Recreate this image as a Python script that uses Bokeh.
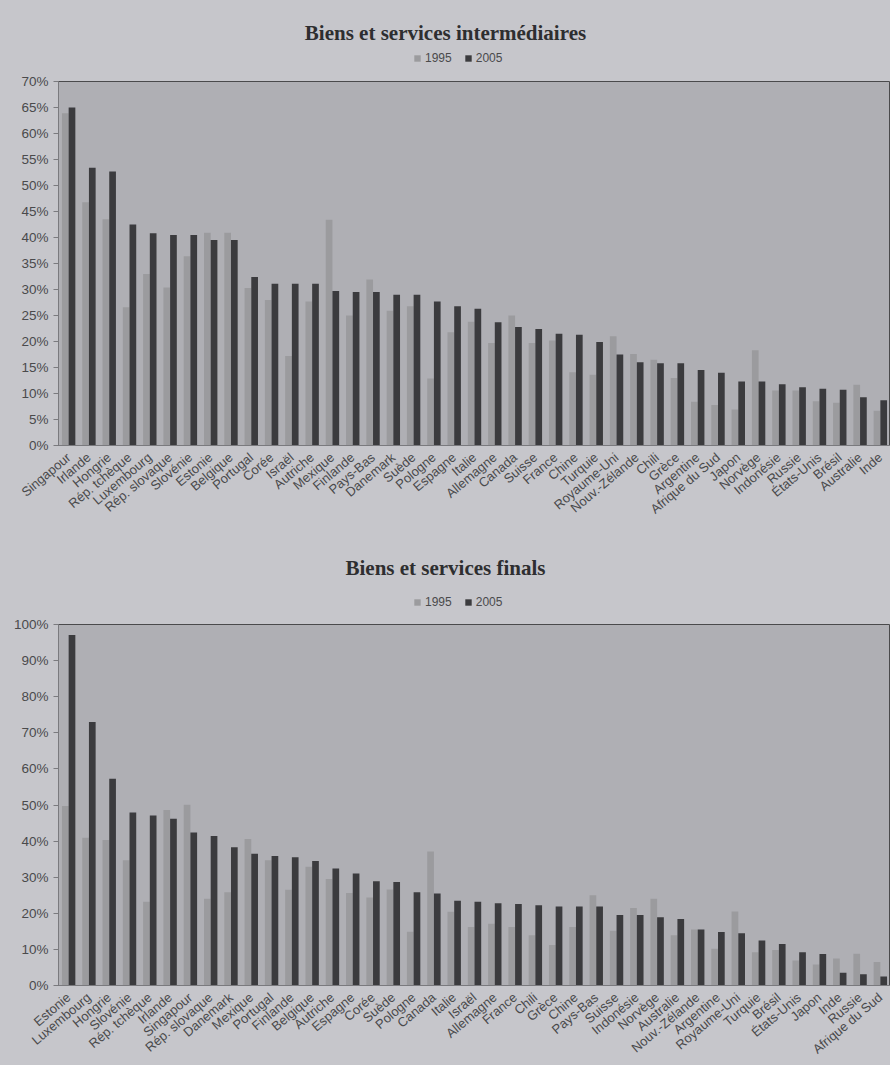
from bokeh.plotting import figure
from bokeh.models import (FactorRange, ColumnDataSource, Legend, LegendItem, Label,
                          SingleIntervalTicker, PrintfTickFormatter)
from bokeh.transform import dodge
from bokeh.layouts import column
from bokeh.embed import file_html
from bokeh.resources import INLINE

# Intermediate goods and services (% share), 1995 vs 2005
countries_inter = [
    "Singapour", "Irlande", "Hongrie", "Rép. tchèque", "Luxembourg", "Rép. slovaque",
    "Slovénie", "Estonie", "Belgique", "Portugal", "Corée", "Israël", "Autriche",
    "Mexique", "Finlande", "Pays-Bas", "Danemark", "Suède", "Pologne", "Espagne",
    "Italie", "Allemagne", "Canada", "Suisse", "France", "Chine", "Turquie",
    "Royaume-Uni", "Nouv.-Zélande", "Chili", "Grèce", "Argentine", "Afrique du Sud",
    "Japon", "Norvège", "Indonésie", "Russie", "États-Unis", "Brésil", "Australie", "Inde",
]
inter_1995 = [63.9, 46.8, 43.5, 26.6, 33.0, 30.4, 36.4, 40.9, 40.9, 30.3, 28.0, 17.2,
              27.7, 43.4, 25.0, 31.9, 25.9, 26.8, 12.9, 21.8, 23.8, 19.7, 25.0, 19.7,
              20.2, 14.1, 13.6, 21.0, 17.6, 16.5, 13.0, 8.4, 7.8, 6.9, 18.3, 10.6,
              10.6, 8.5, 8.2, 11.7, 6.7]
inter_2005 = [65.0, 53.4, 52.7, 42.5, 40.8, 40.5, 40.5, 39.5, 39.5, 32.4, 31.1, 31.1,
              31.1, 29.7, 29.5, 29.5, 29.0, 29.0, 27.7, 26.8, 26.3, 23.7, 22.8, 22.4,
              21.5, 21.3, 19.9, 17.5, 16.0, 15.8, 15.8, 14.5, 14.0, 12.3, 12.3, 11.8,
              11.2, 10.9, 10.7, 9.3, 8.7]

# Final goods and services (% share), 1995 vs 2005
countries_final = [
    "Estonie", "Luxembourg", "Hongrie", "Slovénie", "Rép. tchèque", "Irlande",
    "Singapour", "Rép. slovaque", "Danemark", "Mexique", "Portugal", "Finlande",
    "Belgique", "Autriche", "Espagne", "Corée", "Suède", "Pologne", "Canada", "Italie",
    "Israël", "Allemagne", "France", "Chili", "Grèce", "Chine", "Pays-Bas", "Suisse",
    "Indonésie", "Norvège", "Australie", "Nouv.-Zélande", "Argentine", "Royaume-Uni",
    "Turquie", "Brésil", "États-Unis", "Japon", "Inde", "Russie", "Afrique du Sud",
]
final_1995 = [49.7, 40.9, 40.3, 34.7, 23.2, 48.6, 50.1, 24.0, 25.8, 40.6, 34.7, 26.5,
              32.9, 29.5, 25.6, 24.4, 26.6, 14.9, 37.1, 20.4, 16.2, 17.1, 16.2, 13.9,
              11.2, 16.2, 25.0, 15.2, 21.5, 24.0, 13.9, 15.5, 10.2, 20.5, 9.2, 9.8,
              6.9, 5.8, 7.5, 8.8, 6.5]
final_2005 = [97.1, 73.0, 57.3, 47.9, 47.1, 46.2, 42.4, 41.4, 38.3, 36.5, 35.9, 35.5,
              34.5, 32.4, 31.0, 28.9, 28.7, 25.8, 25.5, 23.5, 23.2, 22.8, 22.6, 22.2,
              21.9, 21.9, 21.9, 19.5, 19.5, 18.9, 18.4, 15.5, 14.8, 14.5, 12.5, 11.5,
              9.2, 8.7, 3.5, 3.1, 2.5]

SERIES = ["1995", "2005"]

PAGE = "#c6c6cb"
PANEL = "#afafb4"
LIGHT = "#9b9b9e"
DARK = "#3b3b3e"
TEXT = "#4a4a4c"


def make_header(title, cats, height, title_y, legend_y):
    """Heading band: bold serif title with the series key underneath."""
    h = figure(width=890, height=height, x_range=FactorRange(*cats), y_range=(0, 1),
               x_axis_location=None, y_axis_location=None,
               output_backend="svg", toolbar_location=None,
               min_border=0, outline_line_color=None)
    h.background_fill_color = PAGE
    h.border_fill_color = PAGE
    h.grid.grid_line_color = None
    h.add_layout(Label(x=387, y=title_y, x_units="screen", y_units="screen",
                       text=title, text_align="center", text_baseline="middle",
                       text_font="Liberation Serif", text_font_style="bold",
                       text_font_size="21px", text_color="#2e2e30"))
    # flat (zero-height) bars only serve as legend keys
    keys = ColumnDataSource(dict(cat=cats))
    k95 = h.vbar(x="cat", top=0, width=0.3, source=keys, fill_color=LIGHT, line_color=None)
    k05 = h.vbar(x="cat", top=0, width=0.3, source=keys, fill_color=DARK, line_color=None)
    legend = Legend(items=[LegendItem(label=SERIES[0], renderers=[k95]),
                           LegendItem(label=SERIES[1], renderers=[k05])],
                    orientation="horizontal", location=(355, legend_y),
                    background_fill_alpha=0, border_line_alpha=0,
                    label_text_font="Liberation Sans", label_text_font_size="12px",
                    label_text_color=TEXT, label_height=12, glyph_width=8,
                    glyph_height=8, spacing=12, padding=0, margin=0, label_standoff=4)
    h.add_layout(legend, "center")
    return h


def make_chart(cats, v95, v05, ymax, step, height, top, bottom):
    src = ColumnDataSource(dict(cat=cats, v95=v95, v05=v05))
    p = figure(x_range=FactorRange(*cats), y_range=(0, ymax),
               width=890, height=height, output_backend="svg", toolbar_location=None,
               min_border_left=58, min_border_right=0,
               min_border_top=top, min_border_bottom=bottom)
    p.x_range.range_padding = 0
    p.vbar(x=dodge("cat", -0.165, range=p.x_range), top="v95", width=0.33,
           source=src, fill_color=LIGHT, line_color=None)
    p.vbar(x=dodge("cat", 0.165, range=p.x_range), top="v05", width=0.33,
           source=src, fill_color=DARK, line_color=None)

    p.background_fill_color = PANEL
    p.border_fill_color = PAGE
    p.outline_line_color = "#4a4a4c"
    p.outline_line_width = 1
    p.grid.grid_line_color = None

    p.yaxis.ticker = SingleIntervalTicker(interval=step, num_minor_ticks=0)
    p.yaxis.formatter = PrintfTickFormatter(format="%d%%")
    p.yaxis.major_label_text_font = "Liberation Sans"
    p.yaxis.major_label_text_font_size = "13.5px"
    p.yaxis.major_label_text_color = TEXT
    p.yaxis.axis_line_color = "#7a7a7e"
    p.yaxis.major_tick_line_color = "#7a7a7e"
    p.yaxis.major_tick_in = 0
    p.yaxis.major_tick_out = 5

    p.xaxis.major_label_orientation = 0.7
    p.xaxis.major_label_text_font = "Liberation Sans"
    p.xaxis.major_label_text_font_size = "13px"
    p.xaxis.major_label_text_color = TEXT
    p.xaxis.axis_line_color = "#7a7a7e"
    p.xaxis.major_tick_line_color = None
    p.xaxis.major_label_standoff = 4
    return p


top_head = make_header("Biens et services intermédiaires", countries_inter, 70, 38, 5)
top_chart = make_chart(countries_inter, inter_1995, inter_2005, 70, 5, 470, 11, 95)
bottom_head = make_header("Biens et services finals", countries_final, 74, 47, 5)
bottom_chart = make_chart(countries_final, final_1995, final_2005, 100, 10, 451, 10, 79)

layout = column(top_head, top_chart, bottom_head, bottom_chart, spacing=0,
                styles={"background-color": PAGE})
open("out.html", "w").write(file_html(layout, INLINE))
